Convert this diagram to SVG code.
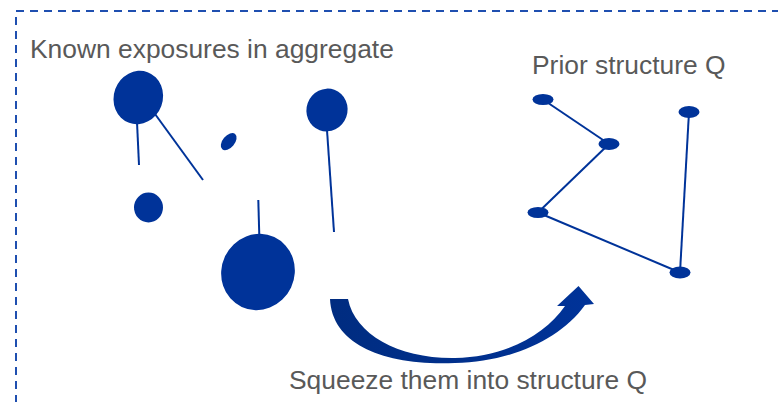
<svg xmlns="http://www.w3.org/2000/svg" width="778" height="402" viewBox="0 0 778 402">
<style>
.lbl{font-family:"Liberation Sans",Arial,sans-serif;font-size:26.4px;fill:#595959}
.node{fill:#003399}
.edge{stroke:#003399;stroke-width:2;fill:none}
</style>
<defs>
<linearGradient id="arrowGrad" x1="330" y1="0" x2="594" y2="0" gradientUnits="userSpaceOnUse">
<stop offset="0" stop-color="#002c80"/>
<stop offset="1" stop-color="#003399"/>
</linearGradient>
</defs>
<rect x="0" y="0" width="778" height="402" fill="#ffffff"/>
<rect id="frame" x="16" y="11" width="820" height="440" fill="none" stroke="#1f4fb0" stroke-width="2" stroke-dasharray="8 6"/>
<text class="lbl" x="30" y="58">Known exposures in aggregate</text>
<text class="lbl" x="532" y="74">Prior structure Q</text>
<text class="lbl" x="289" y="389">Squeeze them into structure Q</text>
<g id="connectors">
<line class="edge" x1="137" y1="122" x2="139" y2="165"/>
<line class="edge" x1="155" y1="114" x2="203" y2="180"/>
<line class="edge" x1="327" y1="130" x2="334" y2="232"/>
<line class="edge" x1="258.3" y1="200" x2="259.3" y2="236"/>
<line class="edge" x1="543" y1="99.5" x2="609" y2="144"/>
<line class="edge" x1="609" y1="144" x2="538" y2="212.5"/>
<line class="edge" x1="538" y1="212.5" x2="680" y2="272.5"/>
<line class="edge" x1="689" y1="112" x2="680" y2="272.5"/>
</g>
<g id="exp1"><ellipse class="node" cx="138.3" cy="97.5" rx="24.5" ry="27" transform="rotate(20 138.3 97.5)"/></g>
<g id="exp2"><ellipse class="node" cx="228.7" cy="141.7" rx="10" ry="6" transform="rotate(-50 228.7 141.7)"/></g>
<g id="exp3"><ellipse class="node" cx="327" cy="110" rx="20.5" ry="21.5" transform="rotate(20 327 110)"/></g>
<g id="exp4"><ellipse class="node" cx="148.5" cy="207.5" rx="14.5" ry="15"/></g>
<g id="exp5"><ellipse class="node" cx="258" cy="272" rx="36.5" ry="38.5" transform="rotate(25 258 272)"/></g>
<g id="q1"><ellipse class="node" cx="543" cy="99.5" rx="10.5" ry="5.5"/></g>
<g id="q2"><ellipse class="node" cx="609" cy="144" rx="10.5" ry="6"/></g>
<g id="q3"><ellipse class="node" cx="689" cy="112" rx="10.5" ry="6"/></g>
<g id="q4"><ellipse class="node" cx="538" cy="212.5" rx="10.5" ry="5.5"/></g>
<g id="q5"><ellipse class="node" cx="680" cy="272.5" rx="10.5" ry="6"/></g>
<g id="squeezeArrow">
<path fill="url(#arrowGrad)" d="M330,299 C332,345 385,366 455,363 C510,362 560,340 585,305 L594,304 L578.5,286 L557,306 L565,306 C545,335 505,357 455,358 C400,359 355,335 348,299 Z"/>
</g>
</svg>
